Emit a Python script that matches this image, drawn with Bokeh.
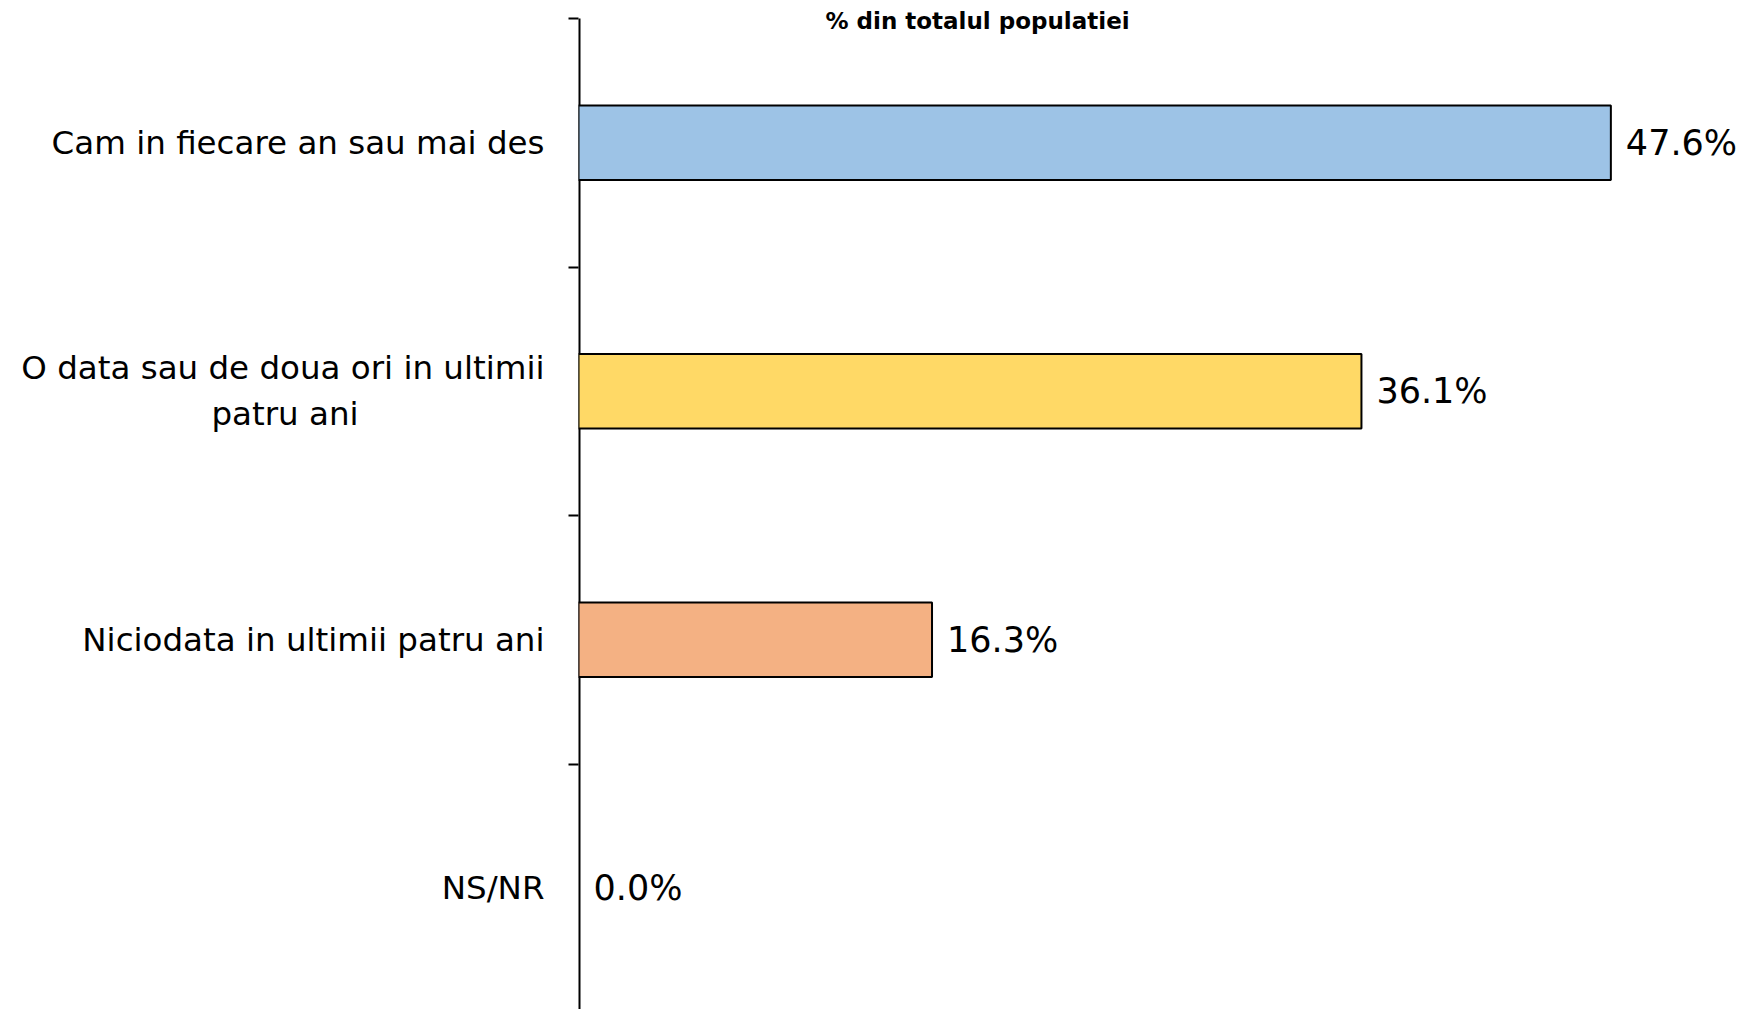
from bokeh.plotting import figure
from bokeh.models import Range1d, FixedTicker, LinearAxis, LabelSet, ColumnDataSource, Label
from bokeh.embed import file_html
from bokeh.resources import INLINE
from bokeh.core.properties import value

categories = [
    "Cam in fiecare an sau mai des",
    "O data sau de doua ori in ultimii\npatru ani",
    "Niciodata in ultimii patru ani",
    "NS/NR",
]
values = [47.6, 36.1, 16.3, 0.0]
colors = ["#9DC3E6", "#FFD966", "#F4B183", "#BFBFBF"]
value_labels = [f"{v:.1f}%" for v in values]
title_text = "% din totalul populatiei"

FONT = "DejaVu Sans"
n = len(categories)
ypos = [n - i - 0.5 for i in range(n)]
boundaries = [float(k) for k in range(1, n + 1)]
outline = ["black" if v > 0 else None for v in values]


def centered(label, pad=18):
    # second line of a wrapped label is centred under the first one
    if "\n" in label:
        first, second = label.split("\n", 1)
        return first + "\n" + second + "\u00a0" * pad
    return label


W, H = 1747, 1009
LEFT = 578
TOP_GAP = 18
BAND_PX = 248.5
y_end = n + TOP_GAP / BAND_PX
y_start = y_end - H / BAND_PX

p = figure(width=W, height=H, output_backend="svg", toolbar_location=None,
           x_range=Range1d(0, 53.9), y_range=Range1d(y_start, y_end),
           min_border_left=LEFT, min_border_right=0, min_border_top=0,
           min_border_bottom=0, x_axis_location=None)
p.outline_line_color = None
p.xgrid.visible = False
p.ygrid.visible = False
p.background_fill_color = "white"
p.border_fill_color = "white"

ax = p.yaxis[0]
ax.ticker = FixedTicker(ticks=boundaries)
ax.major_label_overrides = {b: "" for b in boundaries}
ax.axis_line_color = None
ax.major_tick_line_color = "black"
ax.major_tick_line_width = 2
ax.major_tick_out = 10
ax.major_tick_in = 0
ax.minor_tick_line_color = None
ax.major_label_standoff = 0

lab_ax = LinearAxis(
    ticker=FixedTicker(ticks=ypos),
    major_label_overrides={y: centered(c) for y, c in zip(ypos, categories)},
    axis_line_color=None, major_tick_line_color=None, minor_tick_line_color=None,
    major_tick_out=0, major_tick_in=0,
    major_label_text_font=FONT, major_label_text_font_size="32.5px",
    major_label_text_color="black", major_label_standoff=24,
)
p.add_layout(lab_ax, "left")

# vertical axis line, starting at the top category boundary
p.segment(x0=0, y0=max(boundaries), x1=0, y1=y_start, line_color="black", line_width=4)

src = ColumnDataSource(dict(y=ypos, v=values, c=colors, lc=outline, lab=value_labels))
p.hbar(y="y", left=0, right="v", height=0.3, fill_color="c", line_color="lc",
       line_width=2, source=src)

p.add_layout(LabelSet(x="v", y="y", text="lab", source=src, x_offset=15,
                      text_baseline="middle", text_font=value(FONT),
                      text_font_size=value("35px"), text_color=value("black")))

p.add_layout(Label(x=18.4, y=n - 0.012, text=title_text, text_align="center",
                   text_baseline="middle", text_font=FONT, text_font_size="23px",
                   text_font_style="bold", text_color="black"))

open("out.html", "w").write(file_html(p, INLINE))
